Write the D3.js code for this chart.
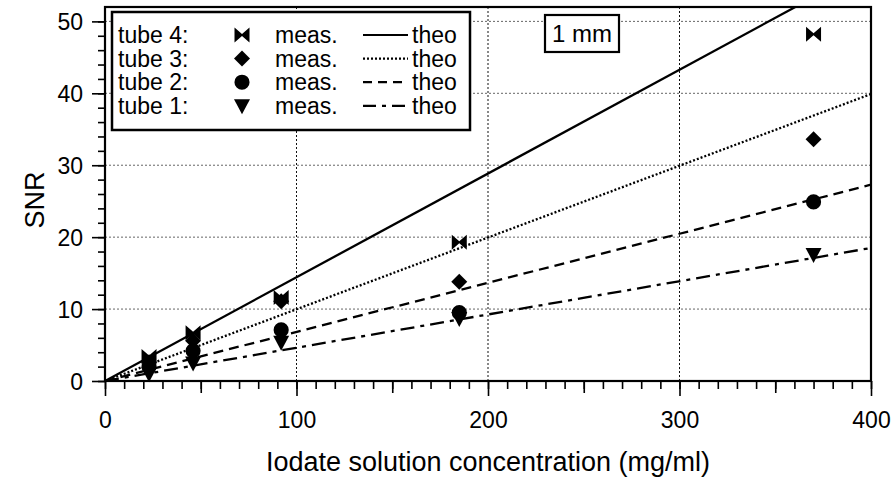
<!DOCTYPE html>
<html>
<head>
<meta charset="utf-8">
<script src="https://cdn.jsdelivr.net/npm/d3@7"></script>
<style>
  body { margin: 0; background: #fff; }
  text { font-family: "Liberation Sans", Arial, sans-serif; fill: #000; }
</style>
</head>
<body>
<div id="chart"></div>
<script>
// concentrations (mg/ml)
var conc = [23, 46, 92, 185, 370]
var tube4 = [3.4, 6.7, 11.6, 19.3, 48.2]
var tube3 = [2.6, 5.6, 11.1, 13.8, 33.6]
var tube2 = [2.0, 4.2, 7.1, 9.5, 24.9]
var tube1 = [1.0, 2.5, 5.4, 8.7, 17.6]

// theoretical curves, values at x = 0 and x = 400
var theoX = [0, 400]
var theo4 = [0, 57.7]
var theo3 = [0, 39.9]
var theo2 = [0, 27.3]
var theo1 = [0, 18.5]

var xTicks = [0, 100, 200, 300, 400]
var yTicks = [0, 10, 20, 30, 40, 50]

var width = 896, height = 481
var pL = 105, pR = 871, pT = 7, pB = 381

var svg = d3.select("#chart").append("svg")
    .attr("width", width)
    .attr("height", height)

var x = d3.scaleLinear().domain([0, 400]).range([pL, pR])
var y = d3.scaleLinear().domain([0, 52]).range([pB, pT])

// grid
svg.append("g").selectAll("line")
    .data(yTicks.filter(d => d > 0))
    .enter().append("line")
    .attr("x1", pL).attr("x2", pR)
    .attr("y1", d => y(d)).attr("y2", d => y(d))
    .attr("stroke", "#666").attr("stroke-width", 1)
    .attr("stroke-dasharray", "2,2")
svg.append("g").selectAll("line")
    .data(xTicks.filter(d => d > 0 && d < 400))
    .enter().append("line")
    .attr("y1", pT).attr("y2", pB)
    .attr("x1", d => x(d)).attr("x2", d => x(d))
    .attr("stroke", "#111").attr("stroke-width", 1)
    .attr("stroke-dasharray", "2,2")

// minor ticks
svg.append("g")
    .attr("transform", "translate(0," + pB + ")")
    .call(d3.axisBottom(x).tickValues(d3.range(0, 401, 10)).tickSize(8).tickFormat(""))
svg.append("g")
    .attr("transform", "translate(0," + pB + ")")
    .call(d3.axisBottom(x).tickValues(d3.range(50, 400, 100)).tickSize(12).tickFormat(""))
svg.append("g")
    .attr("transform", "translate(" + pL + ",0)")
    .call(d3.axisLeft(y).tickValues(d3.range(0, 51, 2)).tickSize(7).tickFormat(""))

// major axes
var xAxis = svg.append("g")
    .attr("class", "xaxis")
    .attr("transform", "translate(0," + pB + ")")
    .call(d3.axisBottom(x).tickValues(xTicks).tickSize(15).tickPadding(16))
var yAxis = svg.append("g")
    .attr("class", "yaxis")
    .attr("transform", "translate(" + pL + ",0)")
    .call(d3.axisLeft(y).tickValues(yTicks).tickSize(13).tickPadding(9))

svg.selectAll(".domain").remove()
svg.selectAll(".tick line").attr("stroke", "#000").attr("stroke-width", 1.6)
svg.selectAll(".xaxis text, .yaxis text")
    .attr("font-size", "23px")
    .attr("font-family", "Liberation Sans, Arial, sans-serif")
    .attr("fill", "#000")
svg.selectAll(".yaxis text").attr("dy", "0.35em")

// frame
svg.append("rect")
    .attr("x", pL).attr("y", pT)
    .attr("width", pR - pL).attr("height", pB - pT)
    .attr("fill", "none").attr("stroke", "#000").attr("stroke-width", 2.2)

// clip for theory lines
svg.append("clipPath").attr("id", "clip")
  .append("rect")
    .attr("x", pL).attr("y", pT)
    .attr("width", pR - pL).attr("height", pB - pT)

var styles = [
  {vals: theo4, dash: null},
  {vals: theo3, dash: "2,2"},
  {vals: theo2, dash: "10,6"},
  {vals: theo1, dash: "14,6,4,6"}
]

var line = d3.line()
    .x(d => x(d[0]))
    .y(d => y(d[1]))

styles.forEach(s => {
  svg.append("path")
      .attr("clip-path", "url(#clip)")
      .attr("d", line(theoX.map((v, i) => [v, s.vals[i]])))
      .attr("fill", "none")
      .attr("stroke", "#000")
      .attr("stroke-width", 2.3)
      .attr("stroke-dasharray", s.dash)
})

// marker shapes
var shapes = {
  bowtie: "M-7.5,-7.5L0,-1L0,1L-7.5,7.5ZM7.5,-7.5L0,-1L0,1L7.5,7.5Z",
  diamond: "M0,-8L8,0L0,8L-8,0Z",
  circle: d3.symbol().type(d3.symbolCircle).size(180)(),
  triangle: "M-8,-6.5L8,-6.5L0,8.5Z"
}

var meas = [
  {vals: tube1, shape: shapes.triangle},
  {vals: tube2, shape: shapes.circle},
  {vals: tube3, shape: shapes.diamond},
  {vals: tube4, shape: shapes.bowtie}
]

meas.forEach(m => {
  svg.append("g").selectAll("path")
      .data(conc.map((c, i) => [c, m.vals[i]]))
      .enter().append("path")
      .attr("d", m.shape)
      .attr("transform", d => "translate(" + x(d[0]) + "," + y(d[1]) + ")")
      .attr("fill", "#000")
})

// legend
var lg = svg.append("g")
lg.append("rect")
    .attr("x", 112).attr("y", 12)
    .attr("width", 358).attr("height", 118)
    .attr("fill", "#fff").attr("stroke", "#000").attr("stroke-width", 2.5)

var legendRows = [
  {label: "tube 4:", shape: shapes.bowtie, dash: null},
  {label: "tube 3:", shape: shapes.diamond, dash: "2,2"},
  {label: "tube 2:", shape: shapes.circle, dash: "9,6"},
  {label: "tube 1:", shape: shapes.triangle, dash: "13,6,4,6"}
]

legendRows.forEach((r, i) => {
  var cy = 35 + i * 23.6
  lg.append("text").attr("x", 118).attr("y", cy).attr("dy", "0.35em")
      .attr("font-size", "23px").text(r.label)
  lg.append("path").attr("d", r.shape)
      .attr("transform", "translate(242," + cy + ")").attr("fill", "#000")
  lg.append("text").attr("x", 275).attr("y", cy).attr("dy", "0.35em")
      .attr("font-size", "23px").text("meas.")
  lg.append("line")
      .attr("x1", 363).attr("x2", 408).attr("y1", cy).attr("y2", cy)
      .attr("stroke", "#000").attr("stroke-width", 2.2)
      .attr("stroke-dasharray", r.dash)
  lg.append("text").attr("x", 412).attr("y", cy).attr("dy", "0.35em")
      .attr("font-size", "23px").text("theo")
})

// 1 mm box
svg.append("rect")
    .attr("x", 545).attr("y", 15)
    .attr("width", 74).attr("height", 37)
    .attr("fill", "#fff").attr("stroke", "#000").attr("stroke-width", 2.2)
svg.append("text")
    .attr("x", 582).attr("y", 34).attr("dy", "0.35em")
    .attr("text-anchor", "middle").attr("font-size", "24px")
    .text("1 mm")

// axis titles
svg.append("text")
    .attr("x", (pL + pR) / 2).attr("y", 462).attr("dy", "0.35em")
    .attr("text-anchor", "middle").attr("font-size", "27px")
    .text("Iodate solution concentration (mg/ml)")
svg.append("text")
    .attr("transform", "translate(35," + ((pT + pB) / 2 + 6) + ") rotate(-90)")
    .attr("dy", "0.35em")
    .attr("text-anchor", "middle").attr("font-size", "27px")
    .text("SNR")
</script>
</body>
</html>
